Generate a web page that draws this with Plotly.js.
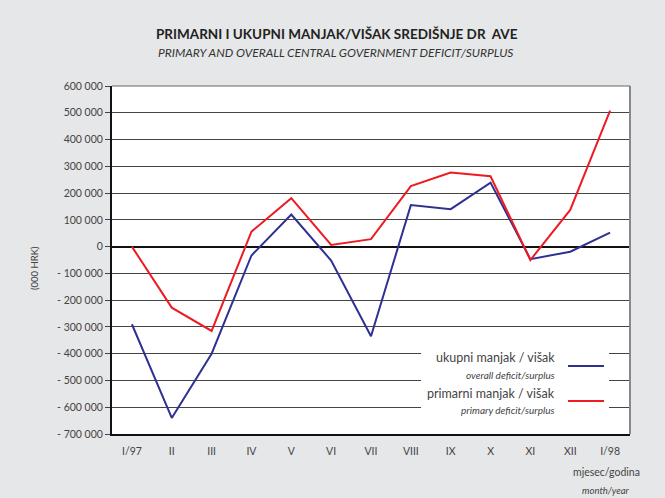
<!DOCTYPE html>
<html><head><meta charset="utf-8">
<script src="https://cdn.plot.ly/plotly-3.0.1.min.js"></script>
<style>html,body{margin:0;padding:0;background:#e6e7e8;}#chart{width:665px;height:498px;}</style>
</head><body><div id="chart"></div>
<script>
const months = ["I/97","II","III","IV","V","VI","VII","VIII","IX","X","XI","XII","I/98"];
const overall = [-290000,-640000,-400000,-33000,120000,-52000,-335000,155000,140000,239000,-47000,-19000,52000];
const primary = [0,-228000,-315000,56000,181000,6000,28000,226000,277000,263000,-50000,137000,508000];
const yTickVals = [600000,500000,400000,300000,200000,100000,0,-100000,-200000,-300000,-400000,-500000,-600000,-700000];
const yTickText = ["600 000","500 000","400 000","300 000","200 000","100 000","0","- 100 000","- 200 000","- 300 000","- 400 000","- 500 000","- 600 000","- 700 000"];
const L = 112, R = 630, T = 86, B = 434;
const px = v => (v - L) / (R - L);
const py = v => (B - v) / (B - T);
const FONT = "Lato, 'Open Sans', sans-serif";
const traces = [
  {x: months, y: overall, type: 'scatter', mode: 'lines', line: {color: '#2e3192', width: 2}, name: 'ukupni manjak / višak', hoverinfo: 'skip'},
  {x: months, y: primary, type: 'scatter', mode: 'lines', line: {color: '#ed1c24', width: 2}, name: 'primarni manjak / višak', hoverinfo: 'skip'}
];
const layout = {
  width: 665, height: 498,
  paper_bgcolor: '#e6e7e8', plot_bgcolor: '#ffffff',
  margin: {l: L, r: 665 - R, t: T, b: 498 - B, pad: 0},
  showlegend: false,
  font: {family: FONT, color: '#444', size: 10.5},
  xaxis: {
    type: 'category', range: [-0.5, 12.5], showgrid: false, zeroline: false,
    showline: true, linecolor: '#111', linewidth: 2, ticks: '', ticklabelstandoff: 6,
    tickfont: {size: 10.5, color: '#444'}, fixedrange: true
  },
  yaxis: {
    range: [-700000, 600000], tickvals: yTickVals, ticktext: yTickText,
    showgrid: true, gridcolor: '#444', gridwidth: 1,
    zeroline: true, zerolinecolor: '#111', zerolinewidth: 2,
    showline: true, linecolor: '#111', linewidth: 2,
    ticks: 'outside', ticklen: 5, tickcolor: '#444', tickwidth: 1,
    tickfont: {size: 10.5, color: '#444'}, fixedrange: true
  },
  shapes: [
    {type: 'line', xref: 'paper', yref: 'paper', x0: 1, x1: 1, y0: 0, y1: 1, line: {color: '#888', width: 2}},
    {type: 'line', xref: 'paper', yref: 'paper', x0: 0, x1: 1, y0: 1, y1: 1, line: {color: '#666', width: 1}},
    {type: 'rect', xref: 'paper', yref: 'paper', x0: px(421), x1: px(609), y0: py(420), y1: py(344), fillcolor: '#ffffff', line: {width: 0}, layer: 'above'},
    {type: 'line', xref: 'paper', yref: 'paper', x0: px(568), x1: px(604), y0: py(366), y1: py(366), line: {color: '#2e3192', width: 2}, layer: 'above'},
    {type: 'line', xref: 'paper', yref: 'paper', x0: px(568), x1: px(604), y0: py(401), y1: py(401), line: {color: '#ed1c24', width: 2}, layer: 'above'}
  ],
  annotations: [
    {text: '<b>PRIMARNI I UKUPNI MANJAK/VIŠAK SREDIŠNJE DR  AVE</b>', xref: 'paper', yref: 'paper', x: px(337), y: py(34), xanchor: 'center', yanchor: 'middle', showarrow: false, font: {size: 13.5, color: '#222', family: FONT}},
    {text: '<i>PRIMARY AND OVERALL CENTRAL GOVERNMENT DEFICIT/SURPLUS</i>', xref: 'paper', yref: 'paper', x: px(335), y: py(52), xanchor: 'center', yanchor: 'middle', showarrow: false, font: {size: 12, color: '#333', family: FONT}},
    {text: '(000 HRK)', xref: 'paper', yref: 'paper', x: px(34), y: py(268), xanchor: 'center', yanchor: 'middle', textangle: -90, showarrow: false, font: {size: 9.5, color: '#444', family: FONT}},
    {text: 'ukupni manjak / višak', xref: 'paper', yref: 'paper', x: px(557), y: py(357), xanchor: 'right', yanchor: 'middle', showarrow: false, font: {size: 12.5, color: '#444', family: FONT}},
    {text: '<i>overall deficit/surplus</i>', xref: 'paper', yref: 'paper', x: px(557), y: py(375), xanchor: 'right', yanchor: 'middle', showarrow: false, font: {size: 10, color: '#444', family: FONT}},
    {text: 'primarni manjak / višak', xref: 'paper', yref: 'paper', x: px(557), y: py(393), xanchor: 'right', yanchor: 'middle', showarrow: false, font: {size: 12.5, color: '#444', family: FONT}},
    {text: '<i>primary deficit/surplus</i>', xref: 'paper', yref: 'paper', x: px(557), y: py(410), xanchor: 'right', yanchor: 'middle', showarrow: false, font: {size: 10, color: '#444', family: FONT}},
    {text: 'mjesec/godina', xref: 'paper', yref: 'paper', x: px(642), y: py(472), xanchor: 'right', yanchor: 'middle', showarrow: false, font: {size: 10.5, color: '#444', family: FONT}},
    {text: '<i>month/year</i>', xref: 'paper', yref: 'paper', x: px(632), y: py(490), xanchor: 'right', yanchor: 'middle', showarrow: false, font: {size: 9.5, color: '#444', family: FONT}}
  ]
};
Plotly.newPlot('chart', traces, layout, {staticPlot: true, displayModeBar: false});
</script></body></html>
